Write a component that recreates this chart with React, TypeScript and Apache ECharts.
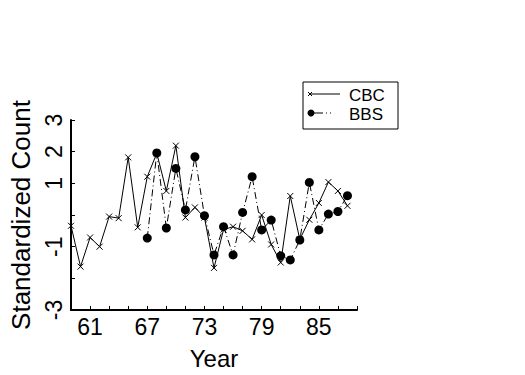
import React, { useEffect, useRef } from "react";
import * as echarts from "echarts";

const cbcYears = [59,60,61,62,63,64,65,66,67,68,69,70,71,72,73,74,75,76,77,78,79,80,81,82,83,84,85,86,87,88];
const cbcValues = [-0.34,-1.63,-0.71,-1.0,-0.05,-0.1,1.82,-0.39,1.21,1.95,0.76,2.19,-0.08,0.24,-0.08,-1.67,-0.46,-0.37,-0.5,-0.77,0.0,-0.93,-1.5,0.6,-0.77,-0.15,0.38,1.04,0.76,0.29];
const bbsYears = [67,68,69,70,71,72,73,74,75,76,77,78,79,80,81,82,83,84,85,86,87,88];
const bbsValues = [-0.73,1.96,-0.41,1.47,0.16,1.84,-0.02,-1.26,-0.37,-1.26,0.08,1.21,-0.47,-0.16,-1.29,-1.42,-0.79,1.03,-0.47,0.03,0.11,0.61];
const xLabelYears = [61, 67, 73, 79, 85];
const yLabelValues = [3, 2, 1, -1, -3];
const legendNames = ["CBC", "BBS"];

const FONT = "Liberation Sans";
const CROSS = "path://M0,0L10,10M10,0L0,10";

export default function App() {
  const ref = useRef<HTMLDivElement>(null);
  useEffect(() => {
    if (!ref.current) return;
    const chart = echarts.init(ref.current, null, { renderer: "svg" });
    chart.setOption({
      animation: false,
      backgroundColor: "#fff",
      grid: { left: 68, top: 120, width: 289, height: 190, containLabel: false },
      xAxis: {
        type: "value",
        min: 59,
        max: 89,
        interval: 2,
        name: "Year",
        nameLocation: "middle",
        nameGap: 36,
        nameTextStyle: { fontFamily: FONT, fontSize: 24, color: "#000" },
        axisLine: { onZero: false, lineStyle: { color: "#000", width: 2 } },
        axisTick: { inside: true, length: 4, lineStyle: { color: "#000", width: 1 } },
        axisLabel: {
          margin: 5,
          fontFamily: FONT,
          fontSize: 23,
          color: "#000",
          formatter: (v: number) => (xLabelYears.includes(v) ? String(v) : ""),
        },
        splitLine: { show: false },
      },
      yAxis: {
        type: "value",
        min: -3,
        max: 3,
        interval: 1,
        name: "Standardized Count",
        nameLocation: "middle",
        nameGap: 37,
        nameTextStyle: { fontFamily: FONT, fontSize: 26, color: "#000" },
        axisLine: { onZero: false, lineStyle: { color: "#000", width: 2 } },
        axisTick: { inside: true, length: 4, lineStyle: { color: "#000", width: 1 } },
        axisLabel: {
          rotate: 90,
          margin: 6,
          fontFamily: FONT,
          fontSize: 23,
          color: "#000",
          formatter: (v: number) => (yLabelValues.includes(v) ? String(v) : ""),
        },
        splitLine: { show: false },
      },
      series: [
        {
          name: legendNames[0],
          type: "line",
          data: cbcYears.map((y, i) => [y, cbcValues[i]]),
          symbol: CROSS,
          symbolSize: 6,
          showAllSymbol: true,
          itemStyle: { color: "#000", borderColor: "#000", borderWidth: 1 },
          lineStyle: { color: "#000", width: 1 },
          z: 3,
        },
        {
          name: legendNames[1],
          type: "line",
          data: bbsYears.map((y, i) => [y, bbsValues[i]]),
          symbol: "circle",
          symbolSize: 9,
          showAllSymbol: true,
          itemStyle: { color: "#000" },
          lineStyle: { color: "#000", width: 1, type: [7, 3, 1, 3] },
          z: 4,
        },
      ],
      graphic: [
        {
          type: "rect",
          shape: { x: 303, y: 82, width: 95, height: 47 },
          style: { fill: "#fff", stroke: "#000", lineWidth: 1 },
        },
        {
          type: "line",
          shape: { x1: 310, y1: 94, x2: 340, y2: 94 },
          style: { stroke: "#000", lineWidth: 1 },
        },
        {
          type: "polyline",
          shape: { points: [[308, 92], [312, 96]] },
          style: { stroke: "#000", lineWidth: 1 },
        },
        {
          type: "polyline",
          shape: { points: [[312, 92], [308, 96]] },
          style: { stroke: "#000", lineWidth: 1 },
        },
        {
          type: "text",
          x: 349,
          y: 95,
          style: { text: legendNames[0], fontFamily: FONT, fontSize: 17, fill: "#000", verticalAlign: "middle" },
        },
        {
          type: "line",
          shape: { x1: 311, y1: 113, x2: 323, y2: 113 },
          style: { stroke: "#000", lineWidth: 1 },
        },
        {
          type: "line",
          shape: { x1: 326, y1: 113, x2: 331, y2: 113 },
          style: { stroke: "#000", lineWidth: 1, lineDash: [1, 3] },
        },
        {
          type: "circle",
          shape: { cx: 311, cy: 113, r: 3.5 },
          style: { fill: "#000" },
        },
        {
          type: "text",
          x: 349,
          y: 114,
          style: { text: legendNames[1], fontFamily: FONT, fontSize: 17, fill: "#000", verticalAlign: "middle" },
        },
      ],
    });
    return () => chart.dispose();
  }, []);
  return <div ref={ref} style={{ width: 525, height: 375, position: "absolute", left: 0, top: 0 }} />;
}
